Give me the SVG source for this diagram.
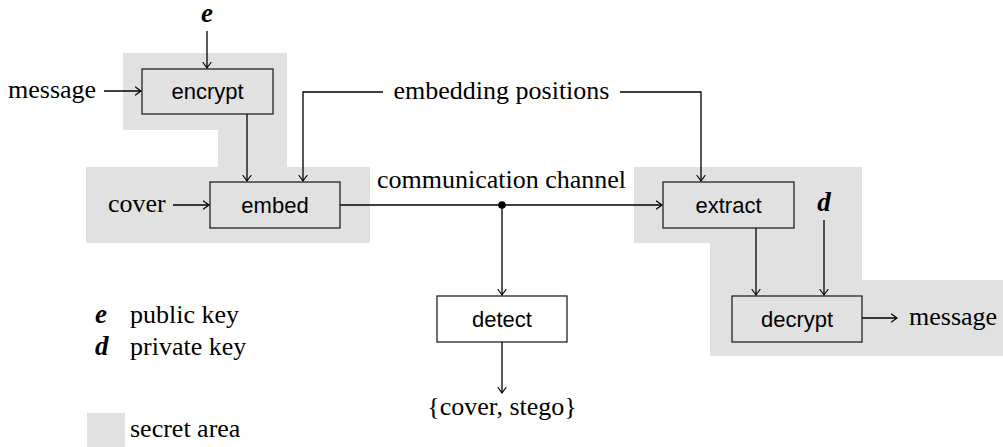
<svg xmlns="http://www.w3.org/2000/svg" width="1003" height="447" viewBox="0 0 1003 447">
  <style>
    .key { font-family: "Liberation Serif", "Times New Roman", serif; font-weight: bold; font-style: italic; font-size: 27px; fill: #000; }
    .proc { font-family: "Liberation Sans", Arial, sans-serif; font-size: 22px; fill: #000; }
    .box { fill: none; stroke: #222; stroke-width: 1.3; }
    .box-white { fill: #fff; stroke: #222; stroke-width: 1.3; }
    .secret { fill: #e1e1e1; stroke: none; }
    .arrow { fill: none; stroke: #000; stroke-width: 1.3; marker-end: url(#to); }
  </style>
  <defs>
    <marker id="to" viewBox="-6 -5 8 10" markerWidth="8" markerHeight="10" refX="0" refY="0" orient="auto" markerUnits="userSpaceOnUse">
      <path d="M -5.5 -4 Q -1.2 -0.8 0 0 Q -1.2 0.8 -5.5 4" fill="none" stroke="#000" stroke-width="1.2" stroke-linecap="round"/>
    </marker>
  </defs>

  <!-- secret areas -->
  <g id="secret-sender">
    <polygon class="secret" points="123,53 287,53 287,167 370,167 370,243 86,243 86,167 218,167 218,130 123,130"/>
  </g>
  <g id="secret-receiver">
    <polygon class="secret" points="634,167 862,167 862,280 1003,280 1003,356 710,356 710,243 634,243"/>
  </g>

  <!-- connectors -->
  <g id="connectors">
    <line class="arrow" x1="207" y1="31" x2="207" y2="68"/>
    <line class="arrow" x1="104" y1="91" x2="141" y2="91"/>
    <line class="arrow" x1="247" y1="114" x2="247" y2="181"/>
    <line class="arrow" x1="173" y1="205" x2="209" y2="205"/>
    <polyline class="arrow" points="383,92 303,92 303,181"/>
    <polyline class="arrow" points="620,92 701,92 701,181"/>
    <line class="arrow" x1="340" y1="205" x2="662" y2="205"/>
    <circle cx="502" cy="205" r="3.8" fill="#000"/>
    <line class="arrow" x1="502" y1="205" x2="502" y2="295"/>
    <line class="arrow" x1="502" y1="342" x2="502" y2="393"/>
    <line class="arrow" x1="756" y1="228" x2="756" y2="295"/>
    <line class="arrow" x1="824" y1="220" x2="824" y2="295"/>
    <line class="arrow" x1="862" y1="318" x2="897" y2="318"/>
  </g>

  <!-- nodes -->
  <g id="key-e">
    <text class="key" x="207" y="22" text-anchor="middle">e</text>
  </g>
  <g id="message-in">
    <text x="8" y="98" font-family="'Liberation Serif', serif" font-size="26">message</text>
  </g>
  <g id="encrypt">
    <rect class="box" x="142" y="69" width="131" height="45"/>
    <text class="proc" x="207.5" y="99" text-anchor="middle">encrypt</text>
  </g>
  <g id="cover-in">
    <text x="108" y="212" font-family="'Liberation Serif', serif" font-size="26">cover</text>
  </g>
  <g id="embed">
    <rect class="box" x="210" y="182" width="130" height="46"/>
    <text class="proc" x="275" y="213" text-anchor="middle">embed</text>
  </g>
  <g id="embedding-positions">
    <text x="501.5" y="99" text-anchor="middle" font-family="'Liberation Serif', serif" font-size="26">embedding positions</text>
  </g>
  <g id="channel">
    <text x="501.5" y="188" text-anchor="middle" font-family="'Liberation Serif', serif" font-size="26">communication channel</text>
  </g>
  <g id="extract">
    <rect class="box" x="663" y="182" width="131" height="46"/>
    <text class="proc" x="728.5" y="213" text-anchor="middle">extract</text>
  </g>
  <g id="key-d">
    <text class="key" x="824" y="211" text-anchor="middle">d</text>
  </g>
  <g id="decrypt">
    <rect class="box" x="732" y="296" width="130" height="46"/>
    <text class="proc" x="797" y="327" text-anchor="middle">decrypt</text>
  </g>
  <g id="message-out">
    <text x="909" y="325" font-family="'Liberation Serif', serif" font-size="26">message</text>
  </g>
  <g id="detect">
    <rect class="box-white" x="437" y="296" width="130" height="46"/>
    <text class="proc" x="502" y="327" text-anchor="middle">detect</text>
  </g>
  <g id="verdict">
    <text x="502" y="415" text-anchor="middle" font-family="'Liberation Serif', serif" font-size="26">{cover, stego}</text>
  </g>

  <!-- legend -->
  <g id="legend">
    <text class="key" x="95" y="323">e</text>
    <text x="130" y="323" font-family="'Liberation Serif', serif" font-size="26">public key</text>
    <text class="key" x="95" y="355">d</text>
    <text x="130" y="355" font-family="'Liberation Serif', serif" font-size="26">private key</text>
    <rect class="secret" x="87" y="413" width="38" height="34"/>
    <text x="130" y="437" font-family="'Liberation Serif', serif" font-size="26">secret area</text>
  </g>
</svg>
